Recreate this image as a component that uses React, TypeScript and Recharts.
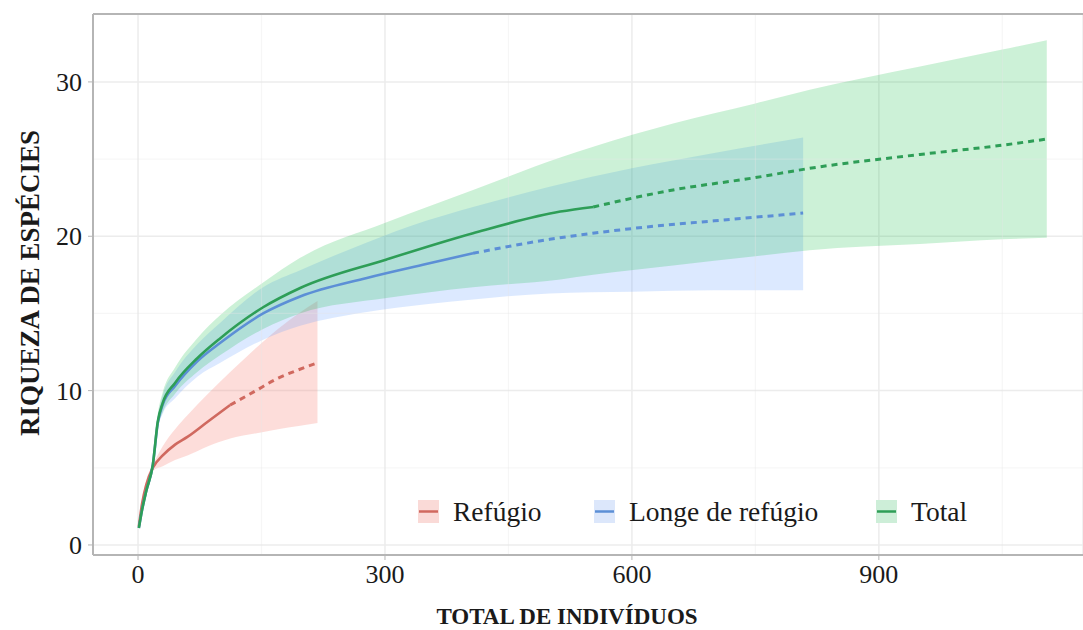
import React from 'react';
import { ComposedChart, Area, Line, XAxis, YAxis, CartesianGrid, ReferenceLine } from 'recharts';

// ---------- data ----------
const seriesNames = ['Refúgio', 'Longe de refúgio', 'Total'];

const refugioX = [1, 5, 10, 18, 30, 45, 60, 85, 112, 140, 170, 195, 218];
const refugioY = [1.2, 2.7, 3.9, 5.0, 5.8, 6.5, 7.0, 8.0, 9.07, 9.9, 10.8, 11.35, 11.8];
const refugioLow = [1.2, 2.5, 3.6, 4.8, 5.1, 5.5, 5.8, 6.4, 6.9, 7.2, 7.5, 7.7, 7.9];
const refugioHigh = [1.2, 2.9, 4.2, 5.2, 6.4, 7.5, 8.4, 9.8, 11.2, 12.6, 14.0, 15.0, 15.8];
const refugioObserved = 112;

const longeX = [1, 5, 10, 18, 24, 30, 45, 72, 100, 152, 197, 278, 350, 407, 500, 600, 700, 808];
const longeY = [1.1, 2.3, 3.5, 5.2, 7.9, 9.1, 10.3, 11.9, 13.1, 15.0, 16.1, 17.3, 18.2, 18.9, 19.8, 20.5, 21.0, 21.5];
const longeLow = [1.1, 2.1, 3.2, 4.9, 7.5, 8.5, 9.5, 10.9, 11.8, 13.3, 14.2, 15.1, 15.6, 15.9, 16.3, 16.4, 16.5, 16.5];
const longeHigh = [1.1, 2.5, 3.8, 5.5, 8.3, 9.7, 11.2, 13.0, 14.4, 16.7, 17.8, 19.6, 21.0, 21.9, 23.2, 24.4, 25.4, 26.4];
const longeObserved = 407;

const totalX = [1, 5, 10, 18, 24, 30, 45, 72, 100, 152, 197, 302, 407, 513, 553, 650, 750, 816, 950, 1050, 1104];
const totalY = [1.1, 2.3, 3.5, 5.2, 8.0, 9.2, 10.5, 12.1, 13.4, 15.4, 16.65, 18.5, 20.2, 21.6, 21.9, 23.0, 23.8, 24.4, 25.3, 25.9, 26.3];
const totalLow = [1.1, 2.1, 3.2, 4.9, 7.6, 8.6, 9.8, 11.2, 12.3, 14.0, 15.0, 16.0, 16.7, 17.2, 17.5, 18.1, 18.7, 19.1, 19.5, 19.8, 19.9];
const totalHigh = [1.1, 2.5, 3.8, 5.5, 8.5, 9.9, 11.5, 13.4, 14.9, 17.0, 18.6, 20.9, 23.0, 25.1, 25.8, 27.3, 28.6, 29.5, 31.0, 32.1, 32.7];
const totalObserved = 553;

const xTicks = [0, 300, 600, 900];
const yTicks = [0, 10, 20, 30];
const xMinor = [150, 450, 750, 1050];
const yMinor = [5, 15, 25];

// ---------- styling ----------
const X_DOMAIN: [number, number] = [-54.7, 1148];
const Y_DOMAIN: [number, number] = [-0.65, 34.4];
const lineColors = ['#d0695f', '#5c8fd6', '#2e9e57'];
const bandColors = ['#f8766d', '#619cff', '#00ba38'];
const bandOpacity = [0.25, 0.22, 0.2];
const keyFill = ['#fadad7', '#dce7fb', '#cdeed8'];
const FONT = '"Liberation Serif", "Times New Roman", Times, serif';

type Row = { x: number; [k: string]: any };

function buildData(): Row[] {
  const map = new Map<number, Row>();
  const add = (key: string, xs: number[], ys: number[], lo: number[], hi: number[], nObs: number) => {
    xs.forEach((x, i) => {
      const row = map.get(x) ?? { x };
      row[key + 'Band'] = [lo[i], hi[i]];
      if (x <= nObs) row[key + 'Obs'] = ys[i];
      if (x >= nObs) row[key + 'Ext'] = ys[i];
      map.set(x, row);
    });
  };
  add('ref', refugioX, refugioY, refugioLow, refugioHigh, refugioObserved);
  add('lon', longeX, longeY, longeLow, longeHigh, longeObserved);
  add('tot', totalX, totalY, totalLow, totalHigh, totalObserved);
  return Array.from(map.values()).sort((a, b) => a.x - b.x);
}

const data = buildData();
const keys = ['ref', 'lon', 'tot'];
const legendLeft = [418, 594, 876];

const XTick = (props: any) => {
  const { x, y, payload } = props;
  return (
    <text x={x} y={y} dy={19} textAnchor="middle" style={{ fontFamily: FONT, fontSize: 26 }} fill="#1a1a1a">
      {payload.value}
    </text>
  );
};

const YTick = (props: any) => {
  const { x, y, payload } = props;
  return (
    <text x={x} y={y} dy={9} textAnchor="end" style={{ fontFamily: FONT, fontSize: 26 }} fill="#1a1a1a">
      {payload.value}
    </text>
  );
};

export default function App() {
  return (
    <div style={{ position: 'absolute', left: 0, top: 0, width: 1083, height: 630, background: '#fff' }}>
      <ComposedChart
        width={1083}
        height={630}
        data={data}
        margin={{ top: 14, right: 0, bottom: 35, left: 33 }}
        style={{ fontFamily: FONT }}
      >
        <CartesianGrid stroke="#ececec" strokeWidth={1.5} horizontal vertical />
        <XAxis
          type="number"
          dataKey="x"
          domain={X_DOMAIN}
          ticks={xTicks}
          allowDataOverflow
          tick={<XTick />}
          tickSize={5}
          tickMargin={4}
          height={40}
          axisLine={{ stroke: '#b5b5b5', strokeWidth: 2 }}
          tickLine={{ stroke: '#b5b5b5' }}
        />
        <YAxis
          type="number"
          domain={Y_DOMAIN}
          ticks={yTicks}
          allowDataOverflow
          tick={<YTick />}
          tickSize={5}
          tickMargin={6}
          width={60}
          axisLine={{ stroke: '#b5b5b5', strokeWidth: 2 }}
          tickLine={{ stroke: '#b5b5b5' }}
        />
        {keys.map((k, i) => (
          <Area
            key={k + 'band'}
            type="monotone"
            dataKey={k + 'Band'}
            stroke="none"
            fill={bandColors[i]}
            fillOpacity={bandOpacity[i]}
            connectNulls
            isAnimationActive={false}
            activeDot={false}
            dot={false}
          />
        ))}
        {xMinor.map((v) => (
          <ReferenceLine key={'xm' + v} x={v} stroke="#e6e6e6" strokeOpacity={0.35} strokeWidth={1.2} />
        ))}
        {yMinor.map((v) => (
          <ReferenceLine key={'ym' + v} y={v} stroke="#e6e6e6" strokeOpacity={0.35} strokeWidth={1.2} />
        ))}
        <ReferenceLine y={Y_DOMAIN[1]} stroke="#b5b5b5" strokeWidth={2} />
        {keys.map((k, i) => (
          <Line
            key={k + 'obs'}
            type="monotone"
            dataKey={k + 'Obs'}
            stroke={lineColors[i]}
            strokeWidth={2.6}
            connectNulls
            dot={false}
            activeDot={false}
            isAnimationActive={false}
          />
        ))}
        {keys.map((k, i) => (
          <Line
            key={k + 'ext'}
            type="monotone"
            dataKey={k + 'Ext'}
            stroke={lineColors[i]}
            strokeWidth={3}
            strokeDasharray="6 5"
            connectNulls
            dot={false}
            activeDot={false}
            isAnimationActive={false}
          />
        ))}
      </ComposedChart>
      {seriesNames.map((name, i) => (
        <div
          key={name}
          style={{
            position: 'absolute',
            left: legendLeft[i],
            top: 498,
            display: 'flex',
            alignItems: 'center',
            fontFamily: FONT,
            fontSize: 27.5,
            color: '#1a1a1a',
            whiteSpace: 'nowrap',
          }}
        >
          <svg width={21} height={23} style={{ marginRight: 14 }}>
            <rect x={0.5} y={0.5} width={20} height={22} fill={keyFill[i]} stroke={keyFill[i]} />
            <line x1={1} x2={20} y1={11.5} y2={11.5} stroke={lineColors[i]} strokeWidth={2.5} />
          </svg>
          <span style={{ lineHeight: '27px' }}>{name}</span>
        </div>
      ))}
      <div
        style={{
          position: 'absolute',
          left: 30,
          top: 283,
          transform: 'translate(-50%, -50%) rotate(-90deg)',
          fontFamily: FONT,
          fontWeight: 'bold',
          fontSize: 27,
          whiteSpace: 'nowrap',
          color: '#1a1a1a',
        }}
      >
        RIQUEZA DE ESPÉCIES
      </div>
      <div
        style={{
          position: 'absolute',
          left: 567,
          top: 617,
          transform: 'translate(-50%, -50%)',
          fontFamily: FONT,
          fontWeight: 'bold',
          fontSize: 23,
          whiteSpace: 'nowrap',
          color: '#1a1a1a',
        }}
      >
        TOTAL DE INDIVÍDUOS
      </div>
    </div>
  );
}
